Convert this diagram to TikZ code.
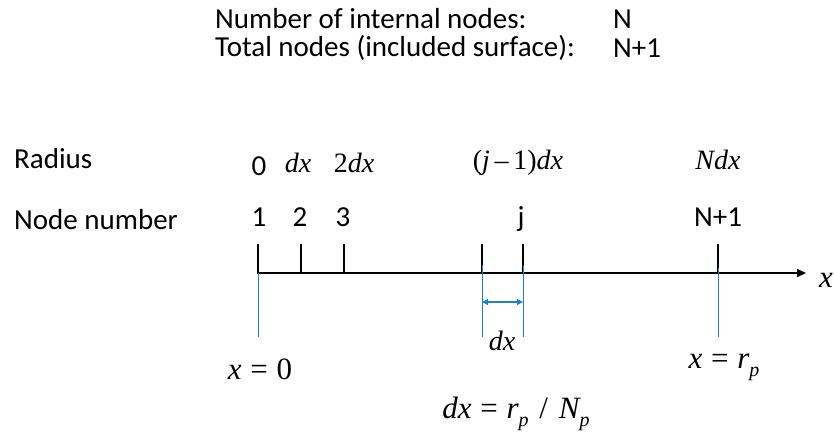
\documentclass[tikz,border=0pt]{standalone}
\usepackage{fontspec}
\setmainfont{Carlito}
\newfontfamily\tms{Liberation Serif}
\usetikzlibrary{arrows.meta}
\definecolor{lblue}{RGB}{30,130,200}
\newcommand{\sbp}[1]{\raisebox{-8pt}{\fontsize{20}{22}\selectfont\itshape #1}}
\newcommand{\eqs}{\hspace{0.28em}}
\tikzset{
  lbl/.style={font=\fontsize{29}{34}\selectfont, inner sep=0pt},
  mth/.style={font=\fontsize{28}{30}\selectfont\tms\itshape, inner sep=0pt},
  bigm/.style={font=\fontsize{31}{34}\selectfont\tms, inner sep=0pt},
  tick/.style={line width=2.2pt},
  guide/.style={lblue, line width=0.8pt},
}
\begin{document}
\begin{tikzpicture}[x=1pt,y=-1pt]
\useasboundingbox (0,0) rectangle (834,437);
% header
\node[lbl, anchor=west] (h1) at (215,19) {Number of internal nodes:};
\node[lbl, anchor=west] (h1v) at (613,19) {N};
\node[lbl, anchor=west] (h2) at (215,48) {Total nodes (included surface):};
\node[lbl, anchor=west] (h2v) at (613,48) {N+1};
% row labels
\node[lbl, anchor=west] (rad) at (14,159) {Radius};
\node[lbl, anchor=west] (nn) at (14,220) {Node number};
% radius values
\node[lbl] (r0) at (259,166) {0};
\node[mth] (r1) at (298,163) {dx};
\node[mth] (r2) at (354,163) {{\upshape 2}dx};
\node[mth] (rj) at (518,163) {{\upshape (}j{\upshape\,–\,1)}dx};
\node[mth] (rN) at (718,160) {Ndx};
% node numbers
\node[lbl] (n1) at (259,217) {1};
\node[lbl] (n2) at (300,217) {2};
\node[lbl] (n3) at (343,217) {3};
\node[lbl] (nj) at (521,219) {j};
\node[lbl] (nN) at (718,217) {N+1};
% axis
\coordinate (a0) at (257,273);
\coordinate (aend) at (806,273);
\draw[line width=2pt, -{Triangle[length=9pt,width=8pt]}] (a0) -- (aend);
\node[bigm, font=\fontsize{31}{34}\selectfont\tms\itshape] (xl) at (826,280) {x};
% ticks
\foreach \n/\xx in {t1/258, t2/301, t3/344, tjm/482, tj/523, tN/718} {
  \coordinate (\n top) at (\xx,244);
  \coordinate (\n) at (\xx,273);
  \draw[tick] (\n top) -- (\n);
}
% blue guides
\coordinate (g1) at (258,337);
\coordinate (gjm) at (482,337);
\coordinate (gj) at (523,337);
\coordinate (gN) at (718,337);
\draw[guide] (t1) -- (g1);
\draw[guide] ([yshift=8pt]tjm) -- (gjm);
\draw[guide] ([yshift=8pt]tj) -- (gj);
\draw[guide] ([yshift=5pt]tN) -- (gN);
\coordinate (d1) at (482,302);
\coordinate (d2) at (523,302);
\draw[lblue, line width=1.2pt, {Triangle[length=6pt,width=6pt]}-{Triangle[length=6pt,width=6pt]}] (d1) -- (d2);
\node[mth] (dxl) at (502,341) {dx};
% bottom labels
\node[bigm] (x0) at (260,369) {\itshape x\upshape\eqs=\eqs 0};
\node[bigm] (xr) at (724,367) {\itshape x\upshape\eqs=\eqs\itshape r\sbp{p}};
\node[bigm] (dxr) at (516,414) {\itshape dx\upshape\eqs=\eqs\itshape r\sbp{p}\upshape\hspace{0.35em}/\hspace{0.35em}\itshape N\sbp{p}};
\end{tikzpicture}
\end{document}
